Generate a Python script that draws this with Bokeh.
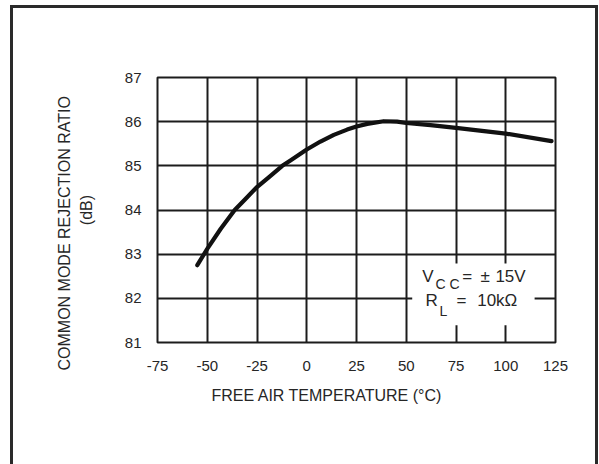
from bokeh.plotting import figure
from bokeh.models import FixedTicker, Label, BoxAnnotation, Range1d, Title
from bokeh.embed import file_html
from bokeh.resources import INLINE

# ---- data ----
temp_c = [-55, -50, -43.3, -36.2, -30.8, -25, -19.1, -12.3, -8.2, 0, 6.9, 13.6,
          20.3, 25, 30.4, 38.7, 45.4, 50, 62.2, 75, 100, 123]
cmrr_db = [82.75, 83.12, 83.57, 84.0, 84.25, 84.52, 84.74, 85.0, 85.12, 85.37, 85.55, 85.70,
           85.82, 85.89, 85.95, 86.01, 86.0, 85.97, 85.92, 85.86, 85.73, 85.56]
x_ticks = [-75, -50, -25, 0, 25, 50, 75, 100, 125]
y_ticks = [81, 82, 83, 84, 85, 86, 87]
x_title = "FREE AIR TEMPERATURE (\u00b0C)"
y_title = "COMMON MODE REJECTION RATIO"
y_unit = "(dB)"

FONT = "Liberation Sans"
INK = "#1c1c1c"
TXT = "#262626"

p = figure(width=588, height=459,
           x_range=Range1d(-75, 125), y_range=Range1d(81, 87),
           output_backend="svg", toolbar_location=None,
           min_border_left=147, min_border_right=43,
           min_border_top=72, min_border_bottom=122)

p.styles = {"margin": "5px 0 0 10px",
            "box-shadow": "inset 3px 0 0 0 #2a2a2a, inset -3px 0 0 0 #2a2a2a, inset 0 3px 0 0 #2a2a2a"}
p.border_fill_color = None
p.background_fill_color = "white"
p.outline_line_color = INK
p.outline_line_width = 2

for ax, ticks in ((p.xaxis, x_ticks), (p.yaxis, y_ticks)):
    ax.ticker = FixedTicker(ticks=ticks)
    ax.major_label_overrides = {t: str(t) for t in ticks}
    ax.axis_line_color = None
    ax.major_tick_line_color = None
    ax.minor_tick_line_color = None
    ax.major_tick_out = 0
    ax.major_tick_in = 0
    ax.major_label_text_font = FONT
    ax.major_label_text_font_size = "15px"
    ax.major_label_text_color = TXT
p.xaxis.major_label_standoff = 18
p.yaxis.major_label_standoff = 16

# "(dB)" as the y axis label, main title as a Title further out
p.yaxis.axis_label = y_unit
p.yaxis.axis_label_standoff = 27
p.yaxis.axis_label_text_font = FONT
p.yaxis.axis_label_text_font_size = "16px"
p.yaxis.axis_label_text_font_style = "normal"
p.yaxis.axis_label_text_color = TXT

p.xgrid.ticker = FixedTicker(ticks=x_ticks)
p.ygrid.ticker = FixedTicker(ticks=y_ticks)
for g in (p.xgrid, p.ygrid):
    g.grid_line_color = INK
    g.grid_line_width = 2
    g.grid_line_alpha = 1

p.line(temp_c, cmrr_db, line_width=4.2, line_color="#111111",
       line_join="round", line_cap="round")

# white legend box interrupting the grid
p.add_layout(BoxAnnotation(left=53, right=114.5, bottom=81.39, top=82.79,
                           fill_color="white", fill_alpha=1.0, line_color=None))

def lab(x, y, t, size, **kw):
    p.add_layout(Label(x=x, y=y, text=t, text_font=FONT, text_font_size=size,
                       text_color=TXT, **kw))

# V_CC = +/- 15V
lab(58.0, 82.29, "V", "17px")
lab(64.7, 82.14, "C C", "14px")
lab(78.1, 82.29, "=", "17px")
lab(87.3, 82.29, "\u00b1", "17px")
lab(94.8, 82.29, "15V", "17px")
# R_L = 10kOhm
lab(59.7, 81.725, "R", "17px")
lab(66.7, 81.54, "L", "14px")
lab(75.25, 81.725, "=", "17px")
lab(85.65, 81.725, "10k\u03a9", "17px")

def ttl(t, side, size, **kw):
    p.add_layout(Title(text=t, text_font=FONT, text_font_size=size,
                       text_font_style="normal", text_color=TXT, **kw), side)

ttl(x_title, "below", "16px", align="left", offset=54, standoff=22)
ttl(y_title, "left", "16px", align="left", offset=-28, standoff=4)

open("out.html", "w").write(file_html(p, INLINE))
